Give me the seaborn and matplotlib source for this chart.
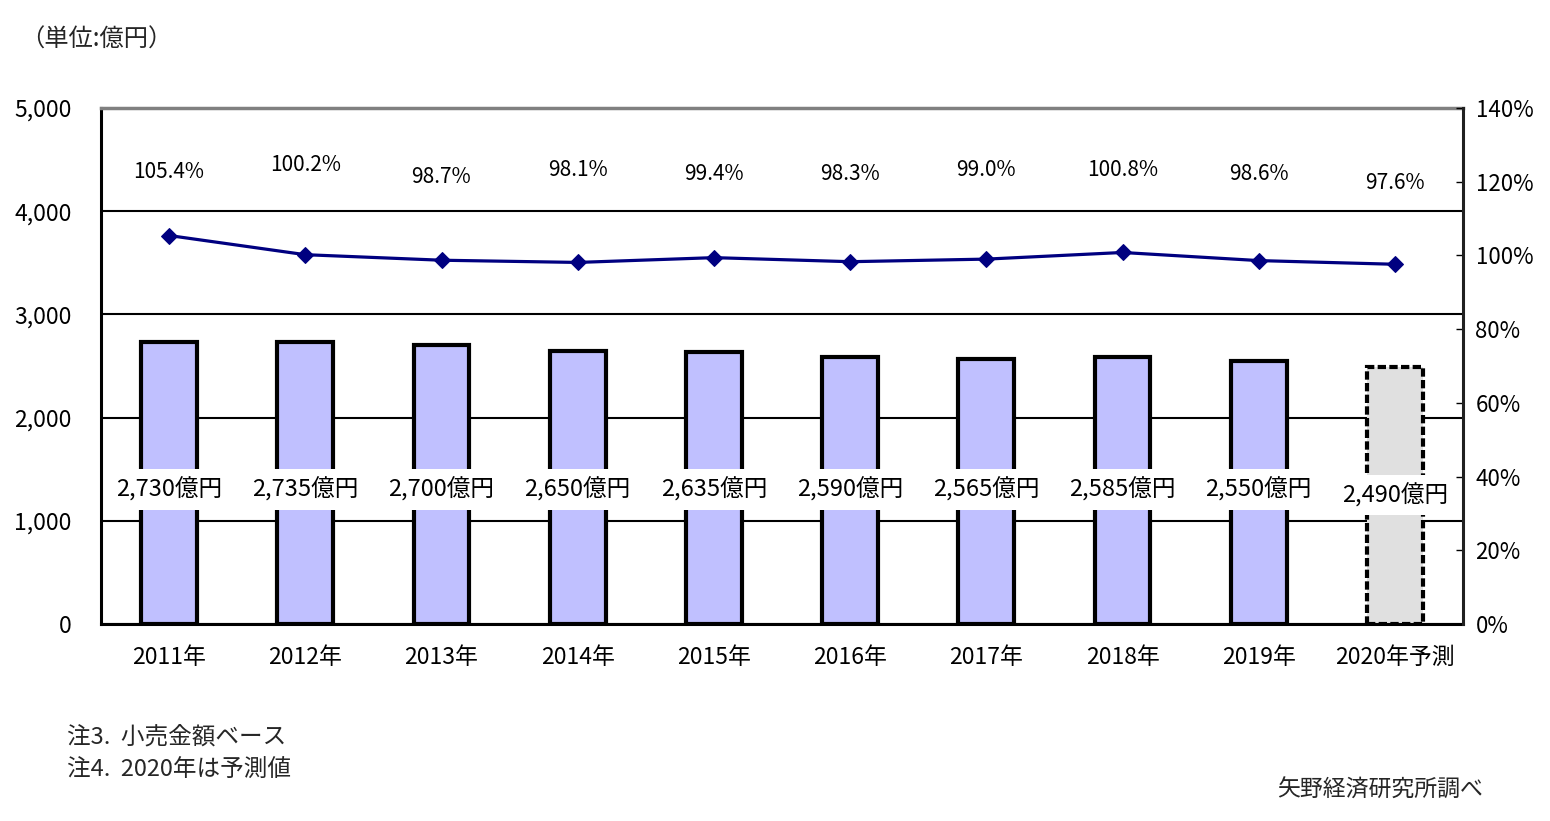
import numpy as np
import matplotlib
matplotlib.use("Agg")
import matplotlib.pyplot as plt
from matplotlib.ticker import FuncFormatter, FixedLocator
import seaborn as sns

categories = ["2011年", "2012年", "2013年", "2014年", "2015年",
              "2016年", "2017年", "2018年", "2019年", "2020年予測"]
market_size = [2730, 2735, 2700, 2650, 2635, 2590, 2565, 2585, 2550, 2490]
growth_rate = [105.4, 100.2, 98.7, 98.1, 99.4, 98.3, 99.0, 100.8, 98.6, 97.6]
bar_labels = ["2,730億円", "2,735億円", "2,700億円", "2,650億円", "2,635億円",
              "2,590億円", "2,565億円", "2,585億円", "2,550億円", "2,490億円"]
growth_labels = ["105.4%", "100.2%", "98.7%", "98.1%", "99.4%",
                 "98.3%", "99.0%", "100.8%", "98.6%", "97.6%"]
# heights (right-axis %) where growth labels sit
growth_label_y = [122.6, 124.5, 121.3, 123.2, 122.1, 122.1, 123.2, 123.2, 122.1, 119.6]
bar_label_y = [1300, 1300, 1300, 1300, 1300, 1300, 1300, 1300, 1300, 1250]

sns.set_theme(style="white")
plt.rcParams["font.family"] = ["Noto Sans CJK JP", "DejaVu Sans"]

fig = plt.figure(figsize=(15.5, 8.21), dpi=100)
ax = fig.add_axes([101 / 1550, 1 - 624 / 821, (1463 - 101) / 1550, (624 - 108) / 821])

colors = ["#C0C0FF"] * 9 + ["#E0E0E0"]
sns.barplot(x=categories, y=market_size, hue=categories, palette=colors,
            legend=False, ax=ax, width=0.41, edgecolor="black",
            linewidth=3, saturation=1, zorder=2)
last = ax.patches[-1]
last.set_linestyle((0, (2, 0.8)))

ax.set_xlim(-0.5, len(categories) - 0.5)
ax.set_ylim(0, 5000)
ax.yaxis.set_major_locator(FixedLocator([0, 1000, 2000, 3000, 4000, 5000]))
ax.yaxis.set_major_formatter(FuncFormatter(lambda v, p: f"{v:,.0f}"))
ax.grid(axis="y", color="black", linewidth=1.5)
ax.grid(axis="x", visible=False)
ax.set_axisbelow(True)
ax.tick_params(axis="y", length=0, pad=21, labelsize=16.5, colors="black")
ax.tick_params(axis="x", which="major", length=0, pad=16, labelsize=16.5, colors="black")
ax.set_xticks(np.arange(0.5, len(categories) - 1, 1.0), minor=True)
ax.tick_params(axis="x", which="minor", direction="in", length=4.5, width=1, color="black")
ax.set_xlabel("")
ax.set_ylabel("")

for side in ["left", "bottom"]:
    ax.spines[side].set_color("black")
    ax.spines[side].set_linewidth(2.2)
ax.spines["top"].set_color("#808080")
ax.spines["top"].set_linewidth(2.5)
ax.spines["right"].set_visible(False)

for i, (lab, yv) in enumerate(zip(bar_labels, bar_label_y)):
    ax.text(i, yv, lab, ha="center", va="center", fontsize=17, color="black",
            bbox=dict(facecolor="white", edgecolor="none", pad=6), zorder=3)

ax2 = ax.twinx()
xpos = np.arange(len(categories))
sns.lineplot(x=xpos, y=growth_rate, ax=ax2, color="#000080", linewidth=2.3,
             marker="D", markersize=8, markeredgecolor="#000080")
ax2.set_ylim(0, 140)
ax2.yaxis.set_major_locator(FixedLocator(list(range(0, 141, 20))))
ax2.yaxis.set_major_formatter(FuncFormatter(lambda v, p: f"{v:.0f}%"))
ax2.tick_params(axis="y", direction="in", length=5, width=1, pad=9,
                labelsize=16, colors="black")
ax2.grid(False)
for side in ["left", "top", "bottom"]:
    ax2.spines[side].set_visible(False)
ax2.spines["right"].set_color("#202020")
ax2.spines["right"].set_linewidth(2.2)
ax2.set_ylabel("")

for i, (lab, yv) in enumerate(zip(growth_labels, growth_label_y)):
    ax2.text(i, yv, lab, ha="center", va="center", fontsize=15, color="black")

fig.text(20 / 1550, 1 - 40 / 821, "（単位:億円）", ha="left", va="center", fontsize=17.5)
fig.text(67 / 1550, 1 - 737 / 821, "注3.  小売金額ベース", ha="left", va="center", fontsize=17)
fig.text(67 / 1550, 1 - 770 / 821, "注4.  2020年は予測値", ha="left", va="center", fontsize=17)
fig.text(1483 / 1550, 1 - 790 / 821, "矢野経済研究所調べ", ha="right", va="center", fontsize=16.5)

fig.savefig("out.png", dpi=100, facecolor="white")
